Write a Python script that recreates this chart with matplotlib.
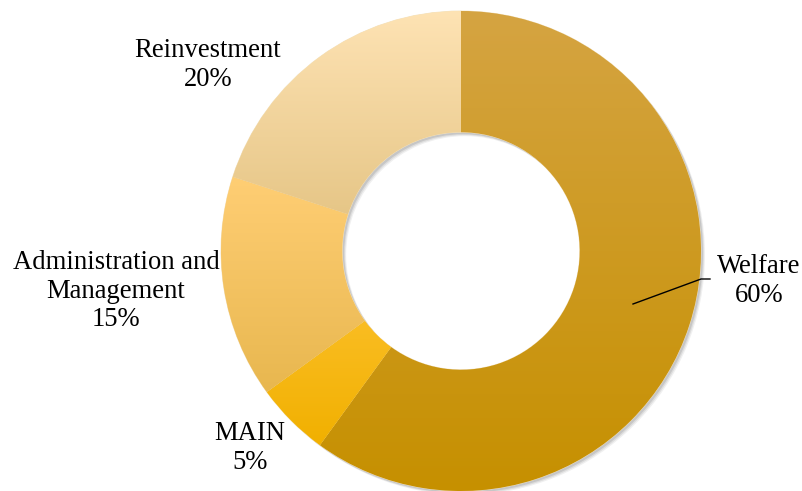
import numpy as np
import matplotlib
matplotlib.use("Agg")
import matplotlib.pyplot as plt
from matplotlib.colors import LinearSegmentedColormap

# -------- DATA --------
labels = ["Welfare", "MAIN", "Administration and\nManagement", "Reinvestment"]
values = [60, 5, 15, 20]
top_colors = ["#D5A442", "#FABD22", "#FFCE74", "#FEE3B4"]
bottom_colors = ["#C69000", "#F1B000", "#E8B74F", "#E6C687"]

plt.rcParams['font.family'] = ['Liberation Serif', 'DejaVu Serif']

W, H = 803, 491
fig = plt.figure(figsize=(W / 100, H / 100), dpi=100)
ax = fig.add_axes([0, 0, 1, 1])
ax.set_xlim(0, W)
ax.set_ylim(0, H)
ax.set_aspect('equal')
ax.axis('off')

cx, cy = 461, 240
R = 240
ring = 0.505

# -------- SHADOW --------
for off, a in [(4, 0.06), (3, 0.08), (2, 0.10)]:
    ax.pie([1], radius=R, center=(cx + off, cy - off), colors=["#000000"],
           wedgeprops=dict(width=R * ring, alpha=a, linewidth=0), frame=True)

# -------- DONUT --------
wedges, _ = ax.pie(values, radius=R, center=(cx, cy), startangle=90,
                   counterclock=False, colors=top_colors,
                   wedgeprops=dict(width=R * ring, linewidth=0.6,
                                   edgecolor="#F2E2C0"), frame=True)

# vertical gradient on each slice
for w, c1, c2 in zip(wedges, top_colors, bottom_colors):
    bb = w.get_path().get_extents()
    cmap = LinearSegmentedColormap.from_list("g", [c2, c1])
    grad = np.linspace(0, 1, 256).reshape(-1, 1)
    im = ax.imshow(grad, cmap=cmap, origin='lower', aspect='auto',
                   extent=[bb.x0, bb.x1, bb.y0, bb.y1], zorder=w.get_zorder() + 0.1)
    im.set_clip_path(w)

ax.set_xlim(0, W)
ax.set_ylim(0, H)

# -------- LABELS --------
fs = 19.2
ls = 1.2
ax.text(759, H - 281, "Welfare\n60%", ha='center', va='center', fontsize=fs,
        linespacing=ls, zorder=5)
ax.text(250, H - 448, "MAIN\n5%", ha='center', va='center', fontsize=fs,
        linespacing=ls, zorder=5)
ax.text(116, H - 291, labels[2] + "\n15%", ha='center', va='center', fontsize=fs,
        linespacing=ls, zorder=5)
ax.text(208, H - 65, "Reinvestment\n20%", ha='center', va='center', fontsize=fs,
        linespacing=ls, zorder=5)

# leader line for Welfare
ax.plot([633, 701, 710], [H - 304, H - 279, H - 279], color="black", lw=1, zorder=5)

fig.savefig("out.png", dpi=100)
